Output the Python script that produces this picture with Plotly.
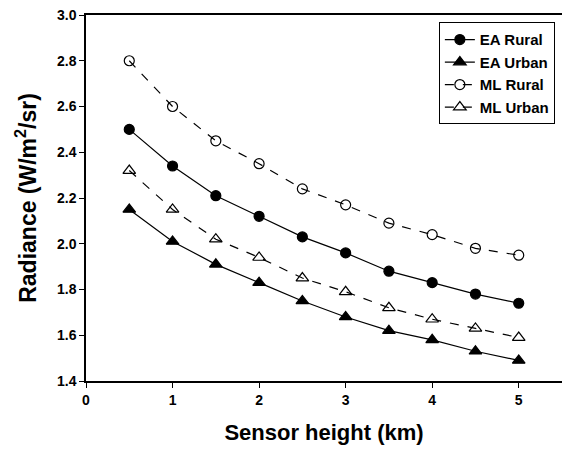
import plotly.graph_objects as go

height_km = [0.5, 1.0, 1.5, 2.0, 2.5, 3.0, 3.5, 4.0, 4.5, 5.0]
ea_rural = [2.50, 2.34, 2.21, 2.12, 2.03, 1.96, 1.88, 1.83, 1.78, 1.74]
ea_urban = [2.15, 2.01, 1.91, 1.83, 1.75, 1.68, 1.62, 1.58, 1.53, 1.49]
ml_rural = [2.80, 2.60, 2.45, 2.35, 2.24, 2.17, 2.09, 2.04, 1.98, 1.95]
ml_urban = [2.32, 2.15, 2.02, 1.94, 1.85, 1.79, 1.72, 1.67, 1.63, 1.59]

x_ticks = [0, 1, 2, 3, 4, 5]
y_ticks = [1.4, 1.6, 1.8, 2.0, 2.2, 2.4, 2.6, 2.8, 3.0]

series = [
    ("EA Rural", ea_rural, "circle", "solid"),
    ("EA Urban", ea_urban, "triangle-up", "solid"),
    ("ML Rural", ml_rural, "circle-open", "dash"),
    ("ML Urban", ml_urban, "triangle-up-open", "dash"),
]

fig = go.Figure()
for name, vals, sym, dash in series:
    fig.add_trace(go.Scatter(
        x=height_km, y=vals, name=name, mode="lines+markers",
        line=dict(color="black", width=1.2, dash=dash),
        marker=dict(symbol=sym, size=10 if "circle" in sym else 11, color="black",
                    line=dict(color="black", width=1.2)),
    ))

font = "Liberation Sans, Arial, sans-serif"
fig.update_layout(
    width=562, height=455,
    margin=dict(l=86, r=0, t=15, b=74, autoexpand=False),
    paper_bgcolor="white", plot_bgcolor="white",
    font=dict(family=font, color="black"),
    showlegend=True,
    legend=dict(
        x=0.985, y=0.98, xanchor="right", yanchor="top",
        bordercolor="black", borderwidth=1, bgcolor="white",
        font=dict(family=font, size=15, color="black", weight="bold"),
        tracegroupgap=0, itemwidth=30,
    ),
    xaxis=dict(
        range=[0, 5.5], tickvals=x_ticks, ticktext=[str(v) for v in x_ticks],
        showgrid=False, zeroline=False, showline=True, linecolor="black", linewidth=1.5,
        mirror=True, ticks="outside", ticklen=5, tickwidth=1.2, tickcolor="black",
        tickfont=dict(family=font, size=14, color="black", weight="bold"),
        automargin=False,
        title=dict(text="Sensor height (km)", standoff=18,
                   font=dict(family=font, size=22, color="black", weight="bold")),
    ),
    yaxis=dict(
        range=[1.4, 3.0], tickvals=y_ticks, ticktext=[f"{v:.1f}" for v in y_ticks],
        showgrid=False, zeroline=False, showline=True, linecolor="black", linewidth=1.5,
        ticks="outside", ticklen=5, tickwidth=1.2, tickcolor="black",
        tickfont=dict(family=font, size=14, color="black", weight="bold"),
        automargin=False,
        title=dict(text="Radiance (W/m<sup>2</sup>/sr)", standoff=14,
                   font=dict(family=font, size=23, color="black", weight="bold")),
    ),
)

fig.write_html("out.html", config={"displayModeBar": False},
               post_script="document.body.style.margin='0';")
